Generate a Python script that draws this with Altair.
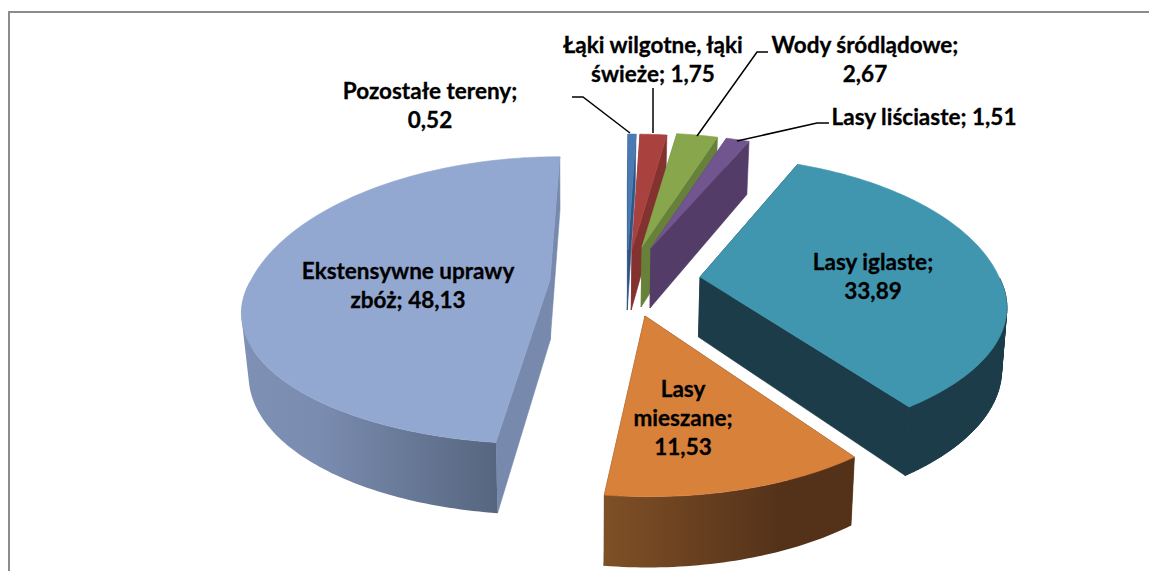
import math
import altair as alt

# ---- data ----
names = ["Pozostałe tereny", "Łąki wilgotne, łąki świeże", "Wody śródlądowe", "Lasy liściaste",
         "Lasy iglaste", "Lasy mieszane", "Ekstensywne uprawy zbóż"]
values = [0.52, 1.75, 2.67, 1.51, 33.89, 11.53, 48.13]
label_texts = ["Pozostałe tereny;\n0,52", "Łąki wilgotne, łąki\nświeże; 1,75", "Wody śródlądowe;\n2,67",
               "Lasy liściaste; 1,51", "Lasy iglaste;\n33,89", "Lasy\nmieszane;\n11,53",
               "Ekstensywne uprawy\nzbóż; 48,13"]

# ---- styling / layout ----
top_colors = ["#4a7ab3", "#a9423f", "#88a64b", "#70558f", "#4096af", "#d8813b", "#93a8d0"]
cut_colors = ["#2f5587", "#843230", "#68813a", "#533d68", "#1b3c48", "#5c3719", "#7789ac"]
wall_stops = [None, None, None, None, None,
              [("#7f5026", 0), ("#54321a", 0.7), ("#54321a", 1)],
              [("#7e90b4", 0), ("#7a8cb0", 0.3), ("#56667f", 1)]]
# apex x, apex y, rx, ry back, ry front, shear back, shear front
geom = [(628, 250, 300, 142, 130, 0, 0),
        (632, 250, 300, 142, 130, 0, 0),
        (642, 247, 300, 140, 130, 0, 0),
        (651, 248, 300, 140, 130, 0, 0),
        (700, 277, 299, 148, 129, 0, 0),
        (645, 316, 295, 140, 140, 0, 3),
        (550, 280, 299, 151, 127, -12, -7)]
paint_order = [0, 1, 2, 3, 6, 4, 5]
label_pos = [(430, 92), (653, 46), (865, 46), (924, 118), (873, 263), (683, 390), (408, 272)]
leaders = [[(572, 97), (583, 97), (630, 133)],
           [(653, 88), (653, 133)],
           [(768, 52), (757, 52), (697, 136)],
           [(829, 123), (817, 123), (737, 141)]]
P = 0.225
WALL = 60
VX = 570
W, H = 1141, 563


def top_pt(g, t):
    ax, ay, rx, ryb, ryf, sb, sf = g
    X, Y = math.sin(t), -math.cos(t)
    k = 1 / (1 - P * Y)
    ry, s = (ryb, sb) if Y < 0 else (ryf, sf)
    return (ax + (rx * X + s * Y) * k, ay + ry * Y * k), k


def low_pt(g, t):
    (x, y), k = top_pt(g, t)
    conv = 0.022 if x < VX else 0.012
    return (x - (x - VX) * conv, y + WALL * k ** 0.65)


def apex_low(g):
    return (g[0] - (g[0] - VX) * 0.012, g[1] + WALL)


def ring(points):
    pts = [list(p) for p in points]
    pts.append(pts[0])
    return pts


def poly(points):
    return {"type": "Feature", "properties": {},
            "geometry": {"type": "Polygon", "coordinates": [ring(points)]}}


def multi(rings):
    return {"type": "Feature", "properties": {},
            "geometry": {"type": "MultiPolygon", "coordinates": [[ring(r)] for r in rings]}}


projection = alt.Projection(type="identity", scale=1, translate=[-8, -8])


def shape(feature, fill):
    if isinstance(fill, str):
        mark = alt.Chart(alt.Data(values=[feature])).mark_geoshape(fill=fill, stroke=fill, strokeWidth=0.6)
    else:
        mark = alt.Chart(alt.Data(values=[feature])).mark_geoshape(fill=fill, strokeWidth=0, strokeOpacity=0)
    return mark.project(**projection.to_dict())


total = sum(values)
bounds = [0]
for v in values:
    bounds.append(bounds[-1] + v / total * 2 * math.pi)

layers = []
for i in paint_order:
    g = geom[i]
    t0, t1 = bounds[i], bounds[i + 1]
    n = max(6, int((t1 - t0) * 60))
    ts = [t0 + (t1 - t0) * j / n for j in range(n + 1)]
    arc = [top_pt(g, t)[0] for t in ts]
    low = [low_pt(g, t) for t in ts]
    apex = (g[0], g[1])
    apx2 = apex_low(g)
    # cut faces
    layers.append(shape(poly([apex, arc[0], low[0], apx2]), cut_colors[i]))
    layers.append(shape(poly([apex, arc[-1], low[-1], apx2]), cut_colors[i]))
    # outer wall: only the part that faces the viewer
    keep = [j for j, t in enumerate(ts) if -math.cos(t) > 0.0]
    if len(keep) > 1:
        if wall_stops[i]:
            fill = alt.Gradient(gradient="linear", x1=0, x2=1, y1=0, y2=0,
                                stops=[alt.GradientStop(color=c, offset=o) for c, o in wall_stops[i]])
        else:
            fill = cut_colors[i]
        a = [arc[j] for j in keep]
        b = [low[j] for j in keep]
        # each wall quad is swept separately so the silhouette stays straight
        quads = [[a[j], a[j + 1], b[j + 1], b[j]] for j in range(len(a) - 1)]
        # the side edge on the silhouette needs a consistent winding
        rings = []
        for q in quads:
            area = sum(q[m][0] * q[(m + 1) % 4][1] - q[(m + 1) % 4][0] * q[m][1] for m in range(4))
            rings.append(q if area > 0 else q[::-1])
        layers.append(shape(multi(rings), fill))
        # fill seams between the quads (same face seen as one band)
        layers.append(shape(poly(a + b[::-1]), fill)) if isinstance(fill, str) else None
    # top face
    layers.append(shape(poly([apex] + arc), top_colors[i]))

# frame (top and left edges only)
frame_h = alt.Chart(alt.Data(values=[{"a": 0}])).mark_rule(color="#8c8c8c", strokeWidth=2).encode(
    x=alt.value(0), x2=alt.value(W), y=alt.value(4))
frame_v = alt.Chart(alt.Data(values=[{"a": 0}])).mark_rule(color="#8c8c8c", strokeWidth=2).encode(
    x=alt.value(1), y=alt.value(3), y2=alt.value(H))

# leader lines
leader_rows = []
for idx, line in enumerate(leaders):
    for o, (x, y) in enumerate(line):
        leader_rows.append({"id": idx, "o": o, "x": x - 8, "y": y - 8})
leader_layer = alt.Chart(alt.Data(values=leader_rows)).mark_line(color="#000000", strokeWidth=1.5).encode(
    x=alt.X("x:Q", scale=None), y=alt.Y("y:Q", scale=None),
    detail="id:N", order="o:Q")

# labels
label_rows = [{"text": t, "x": p[0] - 8, "y": p[1] - 8} for t, p in zip(label_texts, label_pos)]
labels = alt.Chart(alt.Data(values=label_rows)).mark_text(
    font="Lato", fontWeight="bold", fontSize=22.5, color="#000000", align="center",
    baseline="middle", lineBreak="\n", lineHeight=29, stroke="#000000", strokeWidth=0.3
).encode(x=alt.X("x:Q", scale=None), y=alt.Y("y:Q", scale=None), text="text:N")

chart = alt.layer(frame_h, frame_v, *layers, leader_layer, labels).properties(
    width=W, height=H, padding=0, background="white",
    autosize=alt.AutoSizeParams(type="none")
).configure_view(stroke=None).configure_axis(disable=True)

chart.save("out.html", embed_options={"renderer": "svg", "actions": False})
